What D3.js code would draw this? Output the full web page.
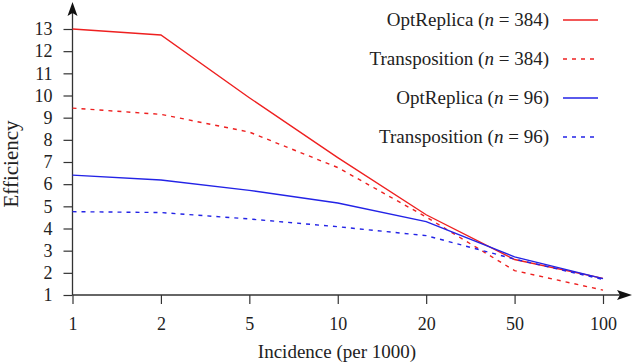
<!DOCTYPE html>
<html>
<head>
<meta charset="utf-8">
<script src="https://cdn.jsdelivr.net/npm/d3@7"></script>
<style>
  body { margin: 0; background: #fff; }
  svg { display: block; font-family: "Liberation Serif", "Times New Roman", serif; }
</style>
</head>
<body>
<svg width="632" height="363"></svg>
<script>
// incidence categories (per 1000), equally spaced on the axis
const incidence = ["1", "2", "5", "10", "20", "50", "100"];
const yTicks = [1, 2, 3, 4, 5, 6, 7, 8, 9, 10, 11, 12, 13];

// efficiency values
const optReplica384 = [13.0, 12.73, 9.9, 7.2, 4.62, 2.6, 1.75];
const transposition384 = [9.43, 9.15, 8.35, 6.75, 4.52, 2.1, 1.22];
const optReplica96 = [6.41, 6.19, 5.72, 5.15, 4.31, 2.72, 1.74];
const transposition96 = [4.76, 4.72, 4.43, 4.08, 3.68, 2.62, 1.7];

const seriesNames = ["OptReplica", "Transposition", "OptReplica", "Transposition"];
const seriesN = ["384", "384", "96", "96"];

const RED = "#ee2020", BLUE = "#2323e6";
const series = [
  { name: seriesNames[0], n: seriesN[0], values: optReplica384, color: RED, dash: null },
  { name: seriesNames[1], n: seriesN[1], values: transposition384, color: RED, dash: "4,5" },
  { name: seriesNames[2], n: seriesN[2], values: optReplica96, color: BLUE, dash: null },
  { name: seriesNames[3], n: seriesN[3], values: transposition96, color: BLUE, dash: "4,5" }
];

const svg = d3.select("svg");
const axisColor = "#333";

const x = d3.scalePoint().domain(incidence).range([72.5, 603]);
const y = d3.scaleLinear().domain([1, 13]).range([295, 29]);

// axes (domain lines drawn by hand so they can end in arrows)
const gx = svg.append("g")
  .attr("transform", "translate(0,295)")
  .call(d3.axisBottom(x).tickSize(9).tickPadding(13));
gx.select(".domain").remove();

const gy = svg.append("g")
  .attr("transform", "translate(72.5,0)")
  .call(d3.axisLeft(y).tickValues(yTicks).tickSize(9).tickPadding(11).tickFormat(d3.format("d")));
gy.select(".domain").remove();

svg.selectAll(".tick line").attr("stroke", axisColor).attr("stroke-width", 1.2);
svg.selectAll(".tick text")
  .attr("fill", "#222")
  .style("font-size", "18px")
  .style("font-family", "Liberation Serif, serif");

svg.append("line")
  .attr("x1", 72.5).attr("x2", 72.5).attr("y1", 295).attr("y2", 12)
  .attr("stroke", axisColor).attr("stroke-width", 1.3);
svg.append("line")
  .attr("x1", 72.5).attr("x2", 620).attr("y1", 295).attr("y2", 295)
  .attr("stroke", axisColor).attr("stroke-width", 1.3);

// arrow heads
svg.append("path")
  .attr("d", "M72.5,2 L67.5,16 L72.5,13 L77.5,16 Z")
  .attr("fill", "#111");
svg.append("path")
  .attr("d", "M632,295 L617,290 L620,295 L617,300 Z")
  .attr("fill", "#111");

// axis titles
svg.append("text")
  .attr("x", 337).attr("y", 358)
  .attr("text-anchor", "middle")
  .attr("fill", "#222")
  .style("font-size", "19px")
  .text("Incidence (per 1000)");

svg.append("text")
  .attr("transform", "translate(18,164) rotate(-90)")
  .attr("text-anchor", "middle")
  .attr("fill", "#222")
  .style("font-size", "21px")
  .text("Efficiency");

// lines
const line = d3.line()
  .x((d, i) => x(incidence[i]))
  .y((d) => y(d));

svg.append("g")
  .selectAll("path")
  .data(series)
  .enter()
  .append("path")
  .attr("d", (d) => line(d.values))
  .attr("fill", "none")
  .attr("stroke", (d) => d.color)
  .attr("stroke-width", 1.4)
  .attr("stroke-dasharray", (d) => d.dash);

// legend
const legend = svg.append("g")
  .selectAll("g")
  .data(series)
  .enter()
  .append("g")
  .attr("transform", (d, i) => `translate(0,${20 + i * 39})`);

legend.append("line")
  .attr("x1", 563).attr("x2", 598)
  .attr("y1", 0).attr("y2", 0)
  .attr("stroke", (d) => d.color)
  .attr("stroke-width", 1.4)
  .attr("stroke-dasharray", (d) => d.dash);

const lt = legend.append("text")
  .attr("x", 549).attr("y", 6)
  .attr("text-anchor", "end")
  .attr("fill", "#222")
  .style("font-size", "19px");
lt.append("tspan").text((d) => `${d.name} (`);
lt.append("tspan").style("font-style", "italic").text("n");
lt.append("tspan").text((d) => ` = ${d.n})`);
</script>
</body>
</html>
